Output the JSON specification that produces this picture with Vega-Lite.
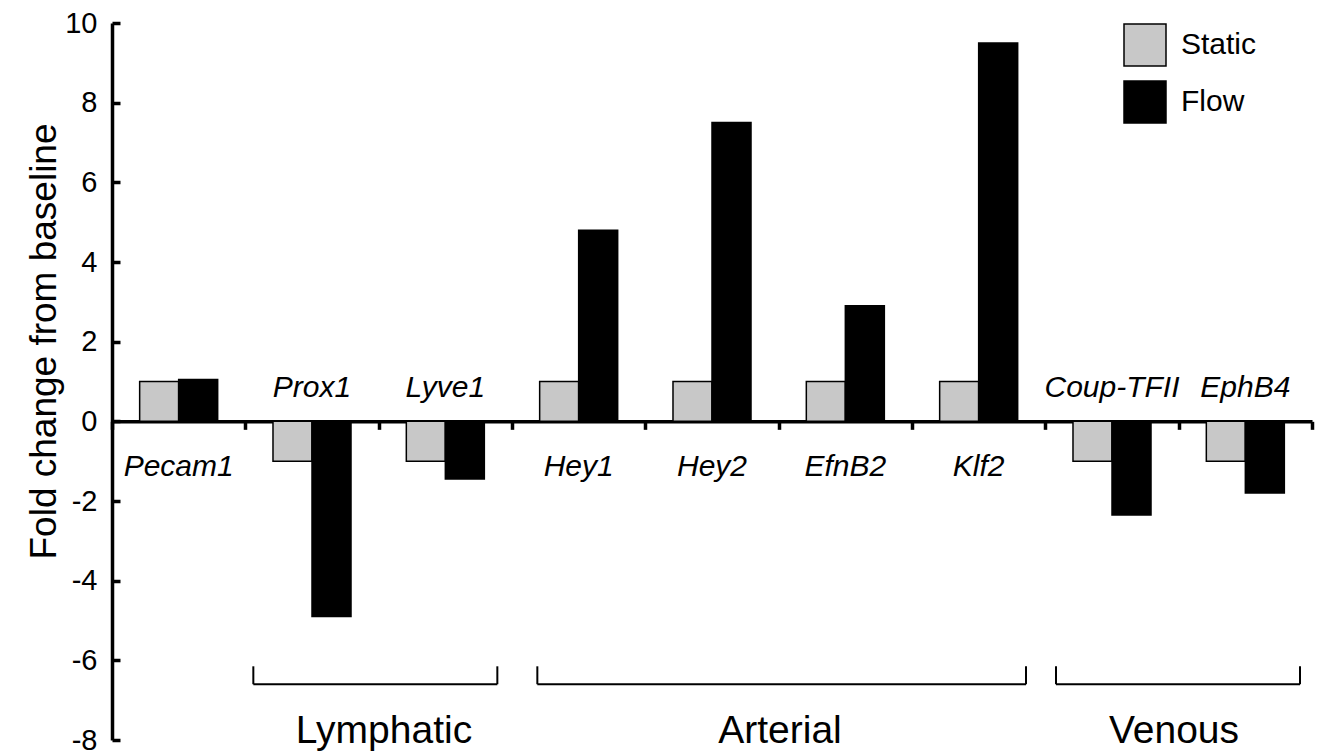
{
  "$schema": "https://vega.github.io/schema/vega-lite/v6.json",
  "width": 1200,
  "height": 717,
  "autosize": {"type": "none"},
  "padding": {"left": 112, "top": 23, "right": 10, "bottom": 15},
  "background": "white",
  "config": {
    "view": {"stroke": null},
    "font": "Liberation Sans",
    "axis": {"grid": false},
    "text": {"color": "black", "font": "Liberation Sans"}
  },
  "datasets": {
    "expr": [
      {"gene": "Pecam1", "condition": "Static", "value": 1},
      {"gene": "Pecam1", "condition": "Flow", "value": 1.05},
      {"gene": "Prox1", "condition": "Static", "value": -1},
      {"gene": "Prox1", "condition": "Flow", "value": -4.9},
      {"gene": "Lyve1", "condition": "Static", "value": -1},
      {"gene": "Lyve1", "condition": "Flow", "value": -1.45},
      {"gene": "Hey1", "condition": "Static", "value": 1},
      {"gene": "Hey1", "condition": "Flow", "value": 4.8},
      {"gene": "Hey2", "condition": "Static", "value": 1},
      {"gene": "Hey2", "condition": "Flow", "value": 7.5},
      {"gene": "EfnB2", "condition": "Static", "value": 1},
      {"gene": "EfnB2", "condition": "Flow", "value": 2.9},
      {"gene": "Klf2", "condition": "Static", "value": 1},
      {"gene": "Klf2", "condition": "Flow", "value": 9.5},
      {"gene": "Coup-TFII", "condition": "Static", "value": -1},
      {"gene": "Coup-TFII", "condition": "Flow", "value": -2.35},
      {"gene": "EphB4", "condition": "Static", "value": -1},
      {"gene": "EphB4", "condition": "Flow", "value": -1.8}
    ],
    "groups": [
      {"group": "Lymphatic", "first": "Prox1", "last": "Lyve1"},
      {"group": "Arterial", "first": "Hey1", "last": "Klf2"},
      {"group": "Venous", "first": "Coup-TFII", "last": "EphB4"}
    ]
  },
  "layer": [
    {
      "data": {"name": "expr"},
      "mark": {"type": "bar", "stroke": "black", "strokeWidth": 1.5},
      "encoding": {
        "x": {
          "field": "gene", "type": "nominal", "sort": null, "title": null,
          "scale": {"domain": ["Pecam1", "Prox1", "Lyve1", "Hey1", "Hey2", "EfnB2", "Klf2", "Coup-TFII", "EphB4"], "paddingInner": 0, "paddingOuter": 0},
          "axis": {"title": null, "labels": false, "orient": "bottom", "offset": -318.67, "domainColor": "black", "domainWidth": 3.5, "tickColor": "black", "tickWidth": 3.5, "tickSize": 8, "tickBand": "extent"}
        },
        "xOffset": {"field": "condition", "type": "nominal", "sort": ["Static", "Flow"], "scale": {"domain": ["Static", "Flow"], "paddingInner": 0, "paddingOuter": 0.709}},
        "y": {
          "field": "value", "type": "quantitative", "stack": null,
          "scale": {"domain": [-8, 10], "nice": false},
          "axis": {
            "values": [-8, -6, -4, -2, 0, 2, 4, 6, 8, 10],
            "labelExpr": "replace(datum.label, '\u2212', '-')",
            "title": "Fold change from baseline",
            "titleFontSize": 37, "titleFontWeight": "normal", "titleColor": "black",
            "titleAngle": 270, "titleX": -57, "titleY": 318, "titleAlign": "center", "titleBaseline": "alphabetic",
            "labelFontSize": 29, "labelColor": "black", "labelPadding": 23,
            "domainColor": "black", "domainWidth": 3.5, "tickColor": "black", "tickWidth": 3.5, "tickSize": -8
          }
        },
        "color": {
          "field": "condition", "type": "nominal",
          "scale": {"domain": ["Static", "Flow"], "range": ["#c8c8c8", "#000000"]},
          "legend": {
            "title": null, "orient": "none", "legendX": 1011, "legendY": 0,
            "symbolType": "square", "symbolSize": 1764, "symbolStrokeColor": "black", "symbolStrokeWidth": 1.5,
            "labelFontSize": 30, "labelColor": "black", "labelOffset": 14, "rowPadding": 9
          }
        }
      }
    },
    {
      "data": {"name": "expr"},
      "transform": [{"filter": "datum.condition == 'Static' && datum.value > 0"}],
      "mark": {"type": "text", "fontSize": 30, "fontStyle": "italic", "baseline": "alphabetic", "align": "center"},
      "encoding": {
        "x": {"field": "gene", "type": "nominal", "sort": null, "title": null},
        "y": {"datum": -1.37},
        "text": {"field": "gene"}
      }
    },
    {
      "data": {"name": "expr"},
      "transform": [{"filter": "datum.condition == 'Static' && datum.value < 0"}],
      "mark": {"type": "text", "fontSize": 30, "fontStyle": "italic", "baseline": "alphabetic", "align": "center"},
      "encoding": {
        "x": {"field": "gene", "type": "nominal", "sort": null, "title": null},
        "y": {"datum": 0.61},
        "text": {"field": "gene"}
      }
    },
    {
      "data": {"name": "groups"},
      "transform": [{"filter": "datum.group == 'Lymphatic'"}],
      "layer": [
        {"mark": {"type": "rule", "color": "black", "strokeWidth": 2},
         "encoding": {"x": {"field": "first", "type": "nominal", "sort": null, "title": null, "bandPosition": 0.06}, "x2": {"field": "last", "bandPosition": 0.89}, "y": {"datum": -6.6}}},
        {"mark": {"type": "rule", "color": "black", "strokeWidth": 2},
         "encoding": {"x": {"field": "first", "type": "nominal", "sort": null, "title": null, "bandPosition": 0.06}, "y": {"datum": -6.6}, "y2": {"datum": -6.15}}},
        {"mark": {"type": "rule", "color": "black", "strokeWidth": 2},
         "encoding": {"x": {"field": "last", "type": "nominal", "sort": null, "title": null, "bandPosition": 0.89}, "y": {"datum": -6.6}, "y2": {"datum": -6.15}}},
        {"mark": {"type": "text", "fontSize": 39, "baseline": "alphabetic", "align": "center"},
         "encoding": {"x": {"field": "first", "type": "nominal", "sort": null, "title": null, "bandPosition": 1.04}, "y": {"datum": -8.07}, "text": {"field": "group"}}}
      ]
    },
    {
      "data": {"name": "groups"},
      "transform": [{"filter": "datum.group == 'Arterial'"}],
      "layer": [
        {"mark": {"type": "rule", "color": "black", "strokeWidth": 2},
         "encoding": {"x": {"field": "first", "type": "nominal", "sort": null, "title": null, "bandPosition": 0.19}, "x2": {"field": "last", "bandPosition": 0.855}, "y": {"datum": -6.6}}},
        {"mark": {"type": "rule", "color": "black", "strokeWidth": 2},
         "encoding": {"x": {"field": "first", "type": "nominal", "sort": null, "title": null, "bandPosition": 0.19}, "y": {"datum": -6.6}, "y2": {"datum": -6.15}}},
        {"mark": {"type": "rule", "color": "black", "strokeWidth": 2},
         "encoding": {"x": {"field": "last", "type": "nominal", "sort": null, "title": null, "bandPosition": 0.855}, "y": {"datum": -6.6}, "y2": {"datum": -6.15}}},
        {"mark": {"type": "text", "fontSize": 39, "baseline": "alphabetic", "align": "center"},
         "encoding": {"x": {"field": "first", "type": "nominal", "sort": null, "title": null, "bandPosition": 2.01}, "y": {"datum": -8.07}, "text": {"field": "group"}}}
      ]
    },
    {
      "data": {"name": "groups"},
      "transform": [{"filter": "datum.group == 'Venous'"}],
      "layer": [
        {"mark": {"type": "rule", "color": "black", "strokeWidth": 2},
         "encoding": {"x": {"field": "first", "type": "nominal", "sort": null, "title": null, "bandPosition": 0.08}, "x2": {"field": "last", "bandPosition": 0.91}, "y": {"datum": -6.6}}},
        {"mark": {"type": "rule", "color": "black", "strokeWidth": 2},
         "encoding": {"x": {"field": "first", "type": "nominal", "sort": null, "title": null, "bandPosition": 0.08}, "y": {"datum": -6.6}, "y2": {"datum": -6.15}}},
        {"mark": {"type": "rule", "color": "black", "strokeWidth": 2},
         "encoding": {"x": {"field": "last", "type": "nominal", "sort": null, "title": null, "bandPosition": 0.91}, "y": {"datum": -6.6}, "y2": {"datum": -6.15}}},
        {"mark": {"type": "text", "fontSize": 39, "baseline": "alphabetic", "align": "center"},
         "encoding": {"x": {"field": "first", "type": "nominal", "sort": null, "title": null, "bandPosition": 0.965}, "y": {"datum": -8.07}, "text": {"field": "group"}}}
      ]
    }
  ]
}
